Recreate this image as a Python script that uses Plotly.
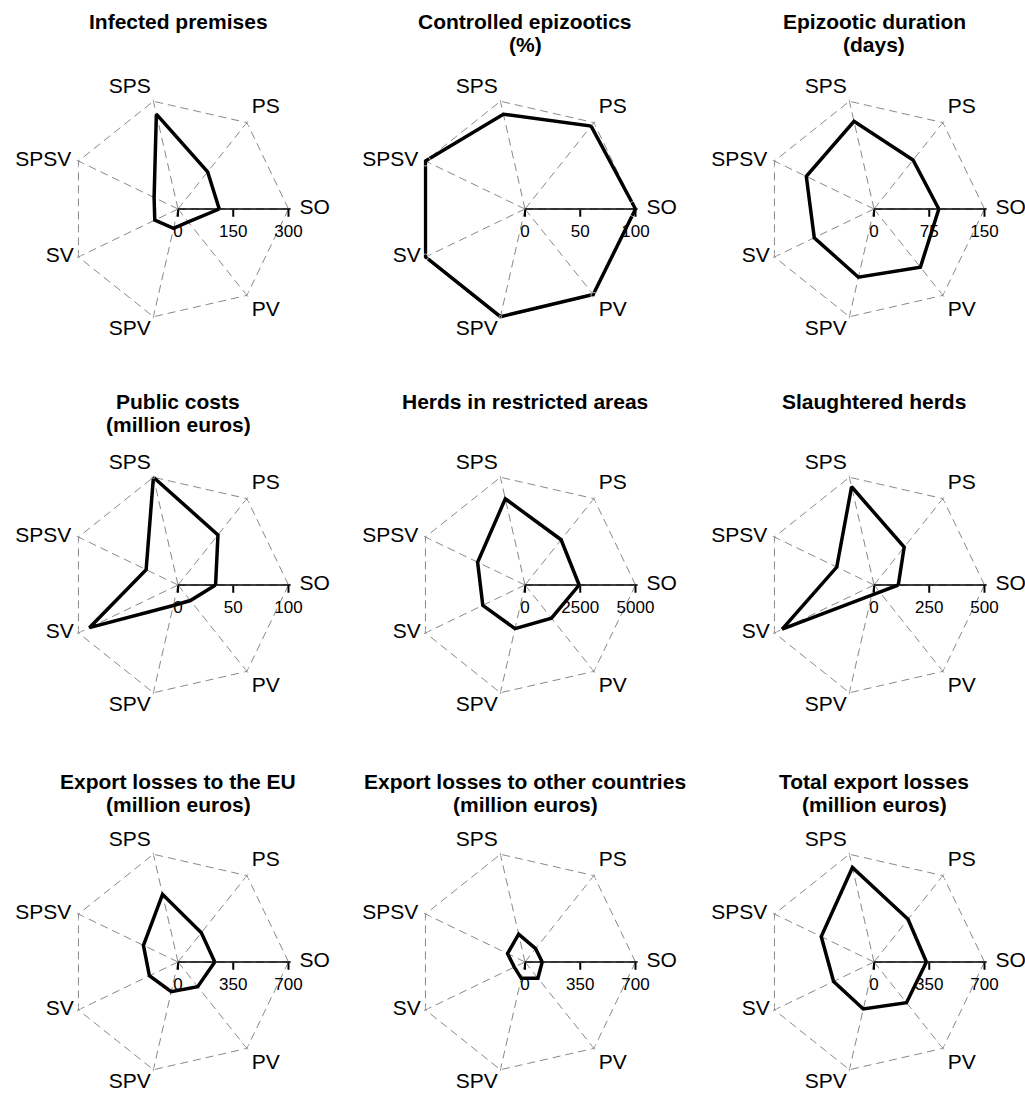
import plotly.graph_objects as go

categories = ["SO", "PS", "SPS", "SPSV", "SV", "SPV", "PV"]

titles = [
    ["Infected premises"],
    ["Controlled epizootics", "(%)"],
    ["Epizootic duration", "(days)"],
    ["Public costs", "(million euros)"],
    ["Herds in restricted areas"],
    ["Slaughtered herds"],
    ["Export losses to the EU", "(million euros)"],
    ["Export losses to other countries", "(million euros)"],
    ["Total export losses", "(million euros)"],
]

infected_premises = [112, 129, 264, 72, 70, 54, 45]
controlled_epizootics = [100, 96, 88, 100, 100, 100, 99]
epizootic_duration = [88, 85, 122, 102, 90, 95, 101]
public_costs = [34, 58, 100, 32, 89, 19, 18]
herds_restricted = [2450, 2620, 4000, 2380, 2120, 2025, 1920]
slaughtered_herds = [110, 219, 456, 187, 461, 47, 41]
export_eu = [233, 237, 440, 243, 201, 193, 200]
export_other = [109, 108, 181, 123, 75, 106, 131]
export_total = [332, 346, 614, 371, 284, 305, 330]

series = [infected_premises, controlled_epizootics, epizootic_duration,
          public_costs, herds_restricted, slaughtered_herds,
          export_eu, export_other, export_total]

axis_max = [300, 100, 150, 100, 5000, 500, 700, 700, 700]

# ---- styling / layout (not data) ----
W, H = 1025, 1095
col_cx = [178, 525, 874]
row_cy = [209, 585, 962]
title_top = [8, 388, 768]
title_line_gap = 23
R = 110.5
PAD = 1.02           # radial range headroom so lines at the max are not clipped
DASH = "8px,5px"
GRAY = "#888888"
label_pos = ["middle right", "top right", "top left", "middle left",
             "middle left", "bottom left", "bottom right"]
label_gap = [16, 6, 2.5, 10, 6, 2.5, 6]   # invisible marker sizes -> text offset

fig = go.Figure()
layout = dict(
    width=W, height=H,
    margin=dict(l=0, r=0, t=0, b=0),
    paper_bgcolor="white",
    plot_bgcolor="white",
    showlegend=False,
    font=dict(family="Liberation Sans, Arial, sans-serif", color="black"),
)
annotations = []

for i, (vals, mx, title) in enumerate(zip(series, axis_max, titles)):
    r_i, c_i = divmod(i, 3)
    cx, cy = col_cx[c_i], row_cy[r_i]
    name = "polar" if i == 0 else f"polar{i+1}"
    Rd = R * PAD

    # outer dashed heptagon
    fig.add_trace(go.Scatterpolar(
        r=[mx] * (len(categories) + 1),
        theta=categories + categories[:1],
        mode="lines",
        line=dict(color=GRAY, width=1, dash=DASH),
        hoverinfo="skip",
        subplot=name,
    ))
    # data polygon
    fig.add_trace(go.Scatterpolar(
        r=vals + vals[:1],
        theta=categories + categories[:1],
        mode="lines",
        line=dict(color="black", width=3.5),
        subplot=name,
    ))
    # category labels at the heptagon vertices
    fig.add_trace(go.Scatterpolar(
        r=[mx] * len(categories),
        theta=categories,
        mode="markers+text",
        text=categories,
        textposition=label_pos,
        textfont=dict(size=21, color="black"),
        marker=dict(size=label_gap, color="rgba(0,0,0,0)"),
        cliponaxis=False,
        hoverinfo="skip",
        subplot=name,
    ))

    layout[name] = dict(
        domain=dict(
            x=[(cx - Rd) / W, (cx + Rd) / W],
            y=[1 - (cy + Rd) / H, 1 - (cy - Rd) / H],
        ),
        gridshape="linear",
        bgcolor="white",
        radialaxis=dict(
            range=[0, mx * PAD],
            angle=0,
            tickangle=0,
            tickvals=[0, mx / 2, mx],
            ticktext=[str(0), f"{mx/2:g}", str(mx)],
            showgrid=False,
            showline=True,
            linecolor="black",
            linewidth=1.5,
            ticks="outside",
            ticklen=7,
            tickwidth=1.5,
            tickcolor="black",
            side="clockwise",
            tickfont=dict(size=17, color="black"),
            layer="above traces",
        ),
        angularaxis=dict(
            type="category",
            categoryarray=categories,
            direction="counterclockwise",
            rotation=0,
            showline=False,
            ticks="",
            showticklabels=False,
            showgrid=True,
            gridcolor=GRAY,
            gridwidth=1,
            griddash=DASH,
            layer="below traces",
        ),
    )

    for k, line in enumerate(title):
        annotations.append(dict(
            text=f"<b>{line}</b>",
            x=cx / W, y=1 - (title_top[r_i] + k * title_line_gap) / H,
            xref="paper", yref="paper",
            xanchor="center", yanchor="top",
            showarrow=False,
            font=dict(size=21, color="black"),
        ))

layout["annotations"] = annotations
fig.update_layout(**layout)
fig.write_html("out.html",
               config={"displayModeBar": False},
               post_script="document.body.style.margin='0';")
